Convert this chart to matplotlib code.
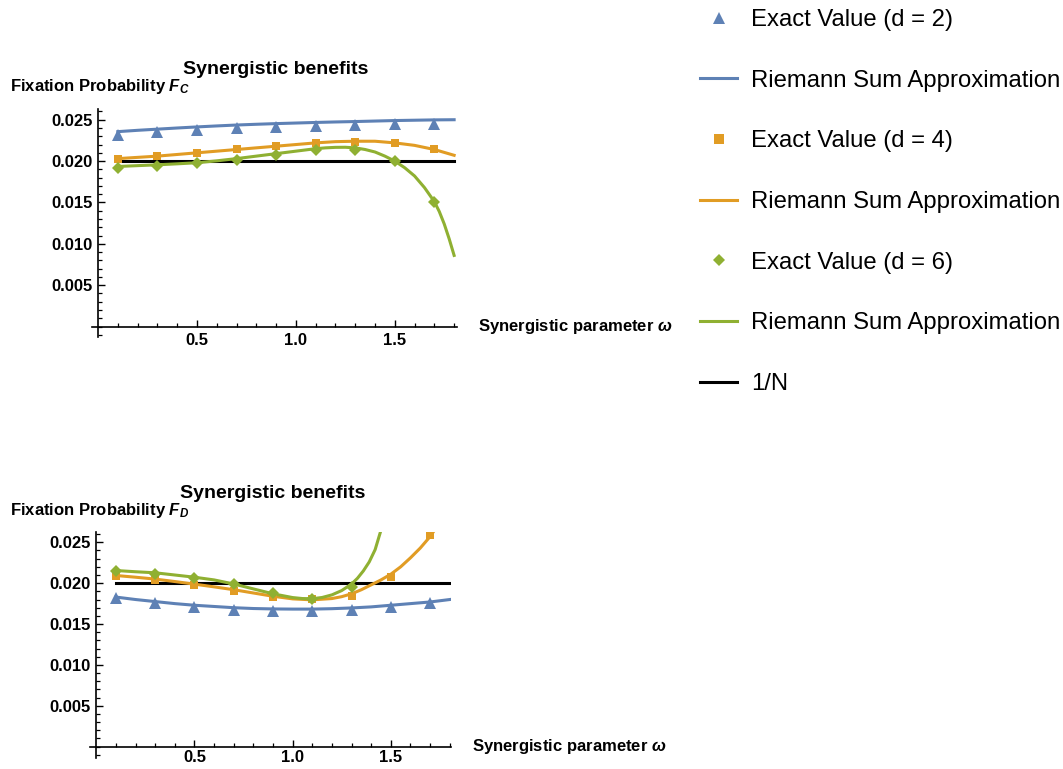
import numpy as np
import matplotlib
matplotlib.use("Agg")
import matplotlib.pyplot as plt
from matplotlib.lines import Line2D
from matplotlib.ticker import MultipleLocator, FixedLocator

plt.rcParams["font.family"] = ["Liberation Sans", "DejaVu Sans"]
plt.rcParams["mathtext.fontset"] = "custom"
plt.rcParams["mathtext.it"] = "Liberation Sans:bold:italic"
plt.rcParams["mathtext.rm"] = "Liberation Sans:bold"
plt.rcParams["mathtext.bf"] = "Liberation Sans:bold"

BLUE = "#5E81B5"
ORANGE = "#E19C24"
GREEN = "#8FB032"

# exact values at omega = 0.1, 0.3, ..., 1.7
omega_exact = [0.1, 0.3, 0.5, 0.7, 0.9, 1.1, 1.3, 1.5, 1.7]

fc_d2 = [0.0232, 0.02348, 0.02372, 0.02397, 0.02409, 0.02425, 0.02437, 0.02445, 0.02453]
fc_d4 = [0.02028, 0.02061, 0.02097, 0.02142, 0.02182, 0.02215, 0.02231, 0.02215, 0.02146]
fc_d6 = [0.01911, 0.01935, 0.01972, 0.02016, 0.02069, 0.0213, 0.02138, 0.01996, 0.01502]

fd_d2 = [0.01816, 0.01763, 0.0171, 0.01673, 0.01657, 0.01661, 0.01678, 0.01714, 0.01755]
fd_d4 = [0.02082, 0.02041, 0.01976, 0.0191, 0.01829, 0.01804, 0.01849, 0.02078, 0.02592]
fd_d6 = [0.02143, 0.0211, 0.02061, 0.01988, 0.01878, 0.01808, 0.01951]

# Riemann sum approximation curves
omega_rs = [0.1, 0.2, 0.3, 0.4, 0.5, 0.6, 0.7, 0.8, 0.9, 1.0, 1.1, 1.2, 1.3, 1.4, 1.5, 1.6, 1.7, 1.8]
rs_c_d2 = [0.02356, 0.02372, 0.02386, 0.024, 0.02413, 0.02425, 0.02436, 0.02445, 0.02453,
           0.0246, 0.02467, 0.02473, 0.02478, 0.02484, 0.0249, 0.02494, 0.02498, 0.025]
rs_c_d4 = [0.0203, 0.02045, 0.0206, 0.0208, 0.021, 0.0212, 0.0214, 0.0216, 0.0218,
           0.022, 0.0222, 0.02235, 0.0224, 0.0224, 0.0222, 0.0219, 0.0214, 0.0207]
rs_d_d2 = [0.0183, 0.018, 0.01775, 0.0175, 0.0173, 0.01715, 0.017, 0.0169, 0.01685,
           0.01683, 0.01683, 0.01688, 0.01697, 0.0171, 0.0173, 0.0175, 0.0177, 0.018]

omega_rs_c6 = [0.1, 0.2, 0.3, 0.4, 0.5, 0.6, 0.7, 0.8, 0.9, 1.0, 1.1, 1.15, 1.2, 1.25,
               1.3, 1.35, 1.4, 1.45, 1.5, 1.55, 1.6, 1.65, 1.7, 1.725, 1.75, 1.775, 1.8]
rs_c_d6 = [0.01935, 0.01945, 0.01955, 0.01967, 0.0198, 0.02003, 0.0203, 0.0206, 0.0209,
           0.0212, 0.0215, 0.0216, 0.02166, 0.02167, 0.0216, 0.0214, 0.0211, 0.0206,
           0.02, 0.0192, 0.0182, 0.0168, 0.0151, 0.0139, 0.0124, 0.0106, 0.0086]

omega_rs_d4 = [0.1, 0.2, 0.3, 0.4, 0.5, 0.6, 0.7, 0.8, 0.9, 1.0, 1.1, 1.2, 1.25, 1.3,
               1.35, 1.4, 1.45, 1.5, 1.55, 1.6, 1.65, 1.7, 1.72]
rs_d_d4 = [0.02094, 0.02073, 0.0205, 0.0202, 0.01988, 0.01955, 0.0192, 0.0188, 0.0184,
           0.01808, 0.01796, 0.01812, 0.01835, 0.0187, 0.0192, 0.0198, 0.0204, 0.0211,
           0.0220, 0.0231, 0.0243, 0.0257, 0.0264]

omega_rs_d6 = [0.1, 0.2, 0.3, 0.4, 0.5, 0.6, 0.7, 0.8, 0.9, 1.0, 1.05, 1.1, 1.15, 1.2,
               1.25, 1.3, 1.33, 1.36, 1.39, 1.42, 1.45]
rs_d_d6 = [0.02155, 0.0214, 0.02127, 0.021, 0.02073, 0.0204, 0.0199, 0.0193, 0.0187,
           0.01824, 0.01812, 0.0181, 0.01825, 0.01857, 0.0191, 0.0199, 0.0206, 0.0215,
           0.0226, 0.0241, 0.0265]

inv_n = 0.02
omega_span = [0.1, 1.8]

fig = plt.figure(figsize=(10.63, 7.69), dpi=100)


def style_axes(ax, xlim, ylim, xpad):
    ax.set_xlim(*xlim)
    ax.set_ylim(*ylim)
    for s in ("top", "right"):
        ax.spines[s].set_visible(False)
    ax.spines["left"].set_position(("data", 0))
    ax.spines["bottom"].set_position(("data", 0))
    for s in ("left", "bottom"):
        ax.spines[s].set_linewidth(1.2)
    ax.xaxis.set_major_locator(FixedLocator([0.5, 1.0, 1.5]))
    ax.xaxis.set_minor_locator(FixedLocator([0.1, 0.2, 0.3, 0.4, 0.6, 0.7, 0.8, 0.9,
                                             1.1, 1.2, 1.3, 1.4, 1.6, 1.7, 1.8]))
    ax.yaxis.set_major_locator(FixedLocator([0.005, 0.01, 0.015, 0.02, 0.025]))
    ax.yaxis.set_minor_locator(MultipleLocator(0.001))
    ax.xaxis.set_major_formatter(plt.FuncFormatter(lambda v, p: f"{v:.1f}"))
    ax.yaxis.set_major_formatter(plt.FuncFormatter(lambda v, p: f"{v:.3f}"))
    ax.tick_params(which="major", direction="in", length=5, width=1.0,
                   labelsize=12, pad=4)
    ax.tick_params(which="minor", direction="in", length=3, width=0.9)
    ax.tick_params(axis="x", which="major", pad=xpad)
    for lab in ax.get_xticklabels() + ax.get_yticklabels():
        lab.set_fontweight("bold")


# top panel: cooperators
ax1 = fig.add_axes([0.0863, 0.5618, 0.3437, 0.2965])
style_axes(ax1, (-0.032, 1.815), (-0.00126, 0.0263), 4.5)
ax1.plot(omega_span, [inv_n, inv_n], color="black", lw=2.2, zorder=2)
ax1.plot(omega_rs, rs_c_d2, color=BLUE, lw=2.2, zorder=3)
ax1.plot(omega_rs, rs_c_d4, color=ORANGE, lw=2.2, zorder=3)
ax1.plot(omega_rs_c6, rs_c_d6, color=GREEN, lw=2.2, zorder=3)
ax1.plot(omega_exact, fc_d2, "^", color=BLUE, ms=8, mew=0, zorder=4)
ax1.plot(omega_exact, fc_d4, "s", color=ORANGE, ms=6, mew=0, zorder=4)
ax1.plot(omega_exact, fc_d6, "D", color=GREEN, ms=6, mew=0, zorder=4)

# bottom panel: defectors
ax2 = fig.add_axes([0.0847, 0.0147, 0.3393, 0.2939])
style_axes(ax2, (-0.032, 1.805), (-0.00135, 0.0263), 2.5)
ax2.plot(omega_span, [inv_n, inv_n], color="black", lw=2.2, zorder=2)
ax2.plot(omega_rs, rs_d_d2, color=BLUE, lw=2.2, zorder=3)
ax2.plot(omega_rs_d4, rs_d_d4, color=ORANGE, lw=2.2, zorder=3)
ax2.plot(omega_rs_d6, rs_d_d6, color=GREEN, lw=2.2, zorder=3)
ax2.plot(omega_exact, fd_d2, "^", color=BLUE, ms=8, mew=0, zorder=4)
ax2.plot(omega_exact, fd_d4, "s", color=ORANGE, ms=6, mew=0, zorder=4)
ax2.plot(omega_exact[:7], fd_d6, "D", color=GREEN, ms=6, mew=0, zorder=4)

# titles and axis labels placed like a Mathematica plot
label_kw = dict(fontsize=12, fontweight="bold", va="center", ha="left")
fig.text(276 / 1063, 1 - 69 / 769, "Synergistic benefits", fontsize=14,
         fontweight="bold", ha="center", va="center")
fig.text(273 / 1063, 1 - 493 / 769, "Synergistic benefits", fontsize=14,
         fontweight="bold", ha="center", va="center")
fig.text(10 / 1063, 1 - 87 / 769, r"Fixation Probability $F_C$", **label_kw)
fig.text(478 / 1063, 1 - 326 / 769, r"Synergistic parameter $\omega$", **label_kw)
fig.text(10 / 1063, 1 - 510 / 769, r"Fixation Probability $F_D$", **label_kw)
fig.text(472 / 1063, 1 - 746 / 769, r"Synergistic parameter $\omega$", **label_kw)

handles = [
    Line2D([], [], ls="none", marker="^", color=BLUE, ms=8, mew=0),
    Line2D([], [], color=BLUE, lw=2.2),
    Line2D([], [], ls="none", marker="s", color=ORANGE, ms=6.5, mew=0),
    Line2D([], [], color=ORANGE, lw=2.2),
    Line2D([], [], ls="none", marker="D", color=GREEN, ms=6.5, mew=0),
    Line2D([], [], color=GREEN, lw=2.2),
    Line2D([], [], color="black", lw=2.2),
]
labels = ["Exact Value (d = 2)", "Riemann Sum Approximation",
          "Exact Value (d = 4)", "Riemann Sum Approximation",
          "Exact Value (d = 6)", "Riemann Sum Approximation", "1/N"]
fig.legend(handles, labels, loc="upper left", bbox_to_anchor=(700 / 1063, 1 - 9 / 769),
           frameon=False, fontsize=17.2, handlelength=1.55, handletextpad=0.6,
           labelspacing=1.62, borderpad=0, borderaxespad=0)

fig.savefig("out.png", dpi=100)
